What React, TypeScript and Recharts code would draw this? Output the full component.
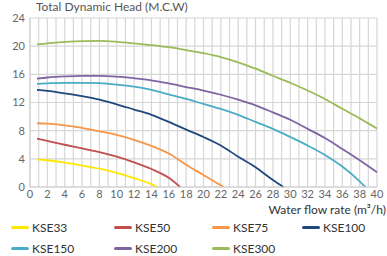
import { LineChart, Line, XAxis, YAxis, CartesianGrid, Legend, Label } from 'recharts';

// Curvas de bomba: vazão (m³/h) x altura manométrica (m.c.a.)
const flowKSE33 = [0.8, 2, 4, 6, 8, 10, 12, 14, 14.7];
const headKSE33 = [3.93, 3.8, 3.45, 3.05, 2.6, 2.0, 1.25, 0.4, 0];

const flowKSE50 = [0.8, 2, 4, 6, 8, 10, 12, 14, 16, 17.3];
const headKSE50 = [6.87, 6.55, 6.0, 5.5, 4.95, 4.3, 3.5, 2.55, 1.3, 0];

const flowKSE75 = [0.8, 2, 4, 6, 8, 10, 12, 14, 16, 18, 20, 22.3];
const headKSE75 = [9.05, 9.0, 8.75, 8.4, 7.9, 7.4, 6.7, 5.85, 4.75, 3.15, 1.7, 0];

const flowKSE100 = [0.8, 2, 4, 6, 8, 10, 12, 14, 16, 18, 20, 22, 24, 26, 28, 29.2];
const headKSE100 = [13.8, 13.65, 13.3, 12.9, 12.4, 11.75, 11.0, 10.25, 9.25, 8.15, 7.1, 5.9, 4.3, 2.8, 1.0, 0];

const flowKSE150 = [0.8, 2, 4, 6, 8, 10, 12, 14, 16, 18, 20, 22, 24, 26, 28, 30, 32, 34, 36, 38, 38.65];
const headKSE150 = [14.65, 14.72, 14.8, 14.8, 14.75, 14.55, 14.25, 13.8, 13.15, 12.5, 11.8, 11.1, 10.25, 9.25, 8.25, 7.1, 5.9, 4.55, 2.9, 0.8, 0];

const flowKSE200 = [0.8, 2, 4, 6, 8, 10, 12, 14, 16, 18, 20, 22, 24, 26, 28, 30, 32, 34, 36, 38, 40];
const headKSE200 = [15.4, 15.55, 15.7, 15.78, 15.78, 15.68, 15.45, 15.15, 14.7, 14.2, 13.7, 13.1, 12.4, 11.6, 10.6, 9.55, 8.25, 6.95, 5.4, 3.8, 2.1];

const flowKSE300 = [0.8, 2, 4, 6, 8, 10, 12, 14, 16, 18, 20, 22, 24, 26, 28, 30, 32, 34, 36, 38, 40];
const headKSE300 = [20.24, 20.4, 20.6, 20.72, 20.74, 20.62, 20.4, 20.15, 19.85, 19.45, 19.0, 18.45, 17.7, 16.8, 15.8, 14.8, 13.7, 12.5, 11.1, 9.75, 8.3];

const modelos = ['KSE33', 'KSE50', 'KSE75', 'KSE100', 'KSE150', 'KSE200', 'KSE300'];
const cores = ['#FFE600', '#C0504D', '#F79646', '#1F497D', '#4BACC6', '#8064A2', '#9BBB59'];

const xTicks = [0, 1, 2, 3, 4, 5, 6, 7, 8, 9, 10, 11, 12, 13, 14, 15, 16, 17, 18, 19, 20, 21, 22, 23, 24, 25, 26, 27, 28, 29, 30, 31, 32, 33, 34, 35, 36, 37, 38, 39, 40];
const yTicks = [0, 4, 8, 12, 16, 20, 24];

const tituloY = 'Total Dynamic Head (M.C.W)';
const tituloX = 'Water flow rate (m³/h)';

const montar = (xs: number[], ys: number[]) => xs.map((x, i) => ({ x, y: ys[i] }));

const series = [
  montar(flowKSE33, headKSE33),
  montar(flowKSE50, headKSE50),
  montar(flowKSE75, headKSE75),
  montar(flowKSE100, headKSE100),
  montar(flowKSE150, headKSE150),
  montar(flowKSE200, headKSE200),
  montar(flowKSE300, headKSE300),
];

const renderLegenda = (props: any) => {
  // mantém a ordem original dos modelos
  const itens = [...(props.payload || [])].sort(
    (a: any, b: any) => modelos.indexOf(a.value) - modelos.indexOf(b.value)
  );
  return (
    <div style={{ display: 'grid', gridTemplateColumns: '103px 98px 90px 80px', fontFamily: 'Lato, sans-serif' }}>
      {itens.map((item: any) => (
        <div key={item.value} style={{ display: 'flex', alignItems: 'center', height: 21 }}>
          <span style={{ display: 'inline-block', width: 18, height: 3, borderRadius: 2, background: item.color, marginRight: 3 }} />
          <span style={{ fontSize: 12, color: '#333' }}>{item.value}</span>
        </div>
      ))}
    </div>
  );
};

export default function App() {
  return (
    <div style={{ position: 'absolute', left: 0, top: 0, fontFamily: 'Lato, sans-serif' }}>
      <LineChart
        width={387}
        height={256}
        margin={{ top: 18, right: 10, left: 0, bottom: 0 }}
        style={{ fontFamily: 'Lato, sans-serif' }}
      >
        <CartesianGrid stroke="#d6d6d6" strokeWidth={1.2} />
        <XAxis
          type="number"
          dataKey="x"
          domain={[0, 40]}
          ticks={xTicks}
          interval={0}
          tickLine={false}
          tickSize={0}
          tickMargin={3}
          height={29}
          stroke="#cfcfcf"
          tick={{ fill: '#666', fontSize: 11 }}
          tickFormatter={(v: number) => (v % 2 === 0 ? String(v) : '')}
          allowDuplicatedCategory={false}
        >
          <Label
            content={() => (
              <text x={386} y={214} textAnchor="end" fill="#333" fontSize={12}>
                {tituloX}
              </text>
            )}
          />
        </XAxis>
        <YAxis
          type="number"
          domain={[0, 24]}
          ticks={yTicks}
          width={30}
          tickLine={false}
          tickSize={0}
          tickMargin={5}
          stroke="#cfcfcf"
          tick={{ fill: '#666', fontSize: 11 }}
        >
          <Label
            content={() => (
              <text x={36} y={11} textAnchor="start" fill="#555" fontSize={12}>
                {tituloY}
              </text>
            )}
          />
        </YAxis>
        <Legend
          verticalAlign="bottom"
          content={renderLegenda}
          wrapperStyle={{ position: 'absolute', top: 217, left: 11, width: 376, height: 40 }}
        />
        {series.map((d, i) => (
          <Line
            key={modelos[i]}
            data={d}
            dataKey="y"
            name={modelos[i]}
            type="monotone"
            stroke={cores[i]}
            strokeWidth={1.8}
            dot={false}
            isAnimationActive={false}
          />
        ))}
      </LineChart>
    </div>
  );
}
